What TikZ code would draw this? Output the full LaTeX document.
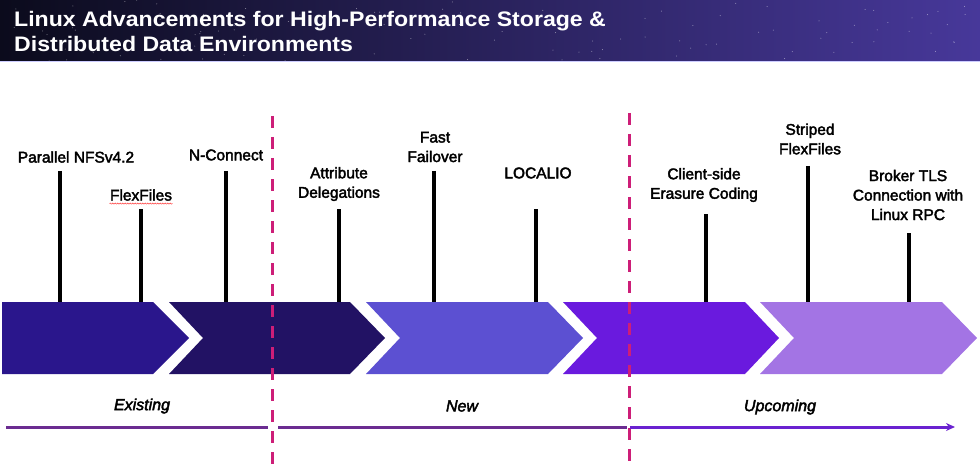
\documentclass[tikz,border=0pt]{standalone}
\usepackage{fontspec}
\setmainfont{Liberation Sans}
\newfontfamily\titlefont{Liberation Sans Bold}[FakeStretch=1.1]
\newfontfamily\labfont{Liberation Sans}[FakeBold=2.5]
\usetikzlibrary{arrows.meta,decorations.pathmorphing}

\definecolor{hdA}{HTML}{0B0B1C}
\definecolor{hdB}{HTML}{23236E}
\definecolor{hdC}{HTML}{47389A}
\definecolor{chevA}{HTML}{2A168C}
\definecolor{chevB}{HTML}{221264}
\definecolor{chevC}{HTML}{5C50D2}
\definecolor{chevD}{HTML}{6A1ADE}
\definecolor{chevE}{HTML}{A374E4}
\definecolor{divcol}{HTML}{CD1E78}
\definecolor{oldline}{HTML}{6B2C91}
\definecolor{newline}{HTML}{6A22D0}

\tikzset{
  feat/.style={align=center, font=\labfont\fontsize{15.5}{19.5}\selectfont},
  stem/.style={line width=3.5pt},
  phase/.style={font=\labfont\fontsize{16}{19}\selectfont\itshape},
  divider/.style={draw=divcol, line width=3pt, dash pattern=on 12pt off 9pt},
  tline/.style={line width=3pt}
}

\begin{document}
\begin{tikzpicture}[x=1pt,y=-1pt]
  \useasboundingbox (0,0) rectangle (980,468);
  \shade[left color=hdA, middle color=hdB, right color=hdC] (0,0) rectangle (980,62);
  \pgfmathsetseed{42}
  \foreach \i in {1,...,110} {
    \fill[white, opacity=0.5] ({rnd*980},{rnd*62}) circle [radius=0.5];
  }
  \draw[white!80!blue, line width=1pt] (0,62) -- (980,62);
  \node[anchor=north west, text=white, align=left, inner sep=0pt,
    font=\titlefont\fontsize{21}{25}\selectfont] (title) at (14,11)
    {Linux Advancements for High-Performance Storage \&\\Distributed Data Environments};

  \foreach \n/\x/\t in {par/60/171, flex/141/209, ncon/226/171, attr/339/209, fail/434/171,
      local/536/209, ecode/706/214, strp/808/166, tls/909/233} {
    \coordinate (\n-top) at (\x,\t);
    \coordinate (\n-bot) at (\x,302);
    \draw[stem] (\n-top) -- (\n-bot);
  }

  \foreach \l/\nt/\r/\t/\c in {2/2/153/189/chevA, 169/203/350/385/chevB, 366/400/548/583/chevC,
      563/597/745/779/chevD, 760/794/942/977/chevE} {
    \fill[\c] (\l,302) -- (\r,302) -- (\t,338) -- (\r,374) -- (\l,374) -- (\nt,338) -- cycle;
  }

  \node[feat] (par-lbl) at (76,157) {Parallel NFSv4.2};
  \node[feat] (flex-lbl) at (141,195) {FlexFiles};
  \node[feat] (ncon-lbl) at (226,155) {N-Connect};
  \node[feat] (attr-lbl) at (339,184) {Attribute\\Delegations};
  \node[feat] (fail-lbl) at (435,147) {Fast\\Failover};
  \node[feat] (local-lbl) at (538,173) {LOCALIO};
  \node[feat] (ecode-lbl) at (704,185) {Client-side\\Erasure Coding};
  \node[feat] (strp-lbl) at (810,139) {Striped\\FlexFiles};
  \node[feat] (tls-lbl) at (908,195) {Broker TLS\\Connection with\\Linux RPC};
  \draw[red!75, line width=0.5pt, decorate, decoration={snake, amplitude=0.6pt, segment length=2.5pt}]
    ([xshift=3pt,yshift=-3pt]flex-lbl.base west) -- ([xshift=-3pt,yshift=-3pt]flex-lbl.base east);

  \coordinate (div1-top) at (272,116);
  \coordinate (div1-bot) at (272,468);
  \coordinate (div2-top) at (629,113);
  \coordinate (div2-bot) at (629,468);
  \draw[divider] (div1-top) -- (div1-bot);
  \draw[divider] (div2-top) -- (div2-bot);

  \coordinate (tl-a) at (6,427);
  \coordinate (tl-b) at (268,427);
  \coordinate (tl-c) at (278,427);
  \coordinate (tl-d) at (627,427);
  \coordinate (tl-e) at (630,427);
  \coordinate (tl-f) at (955,427);
  \draw[tline, oldline] (tl-a) -- (tl-b);
  \draw[tline, oldline] (tl-c) -- (tl-d);
  \draw[tline, newline, -{Stealth[length=9pt, width=8pt]}] (tl-e) -- (tl-f);

  \node[phase] (old-lbl) at (142,406) {Existing};
  \node[phase] (new-lbl) at (462,406) {New};
  \node[phase] (up-lbl) at (780,407) {Upcoming};
\end{tikzpicture}
\end{document}
